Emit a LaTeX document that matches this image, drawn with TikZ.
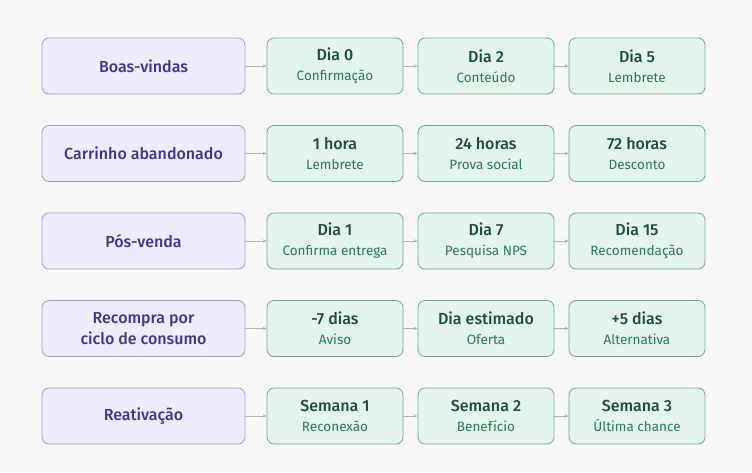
\documentclass[tikz,border=0pt]{standalone}
\usepackage{fontspec}
\setmainfont{Fira Sans}
\newfontfamily\medfont{Fira Sans Medium}
\usetikzlibrary{positioning,arrows.meta}

\definecolor{bgc}{HTML}{F7F7F5}
\definecolor{flowfill}{HTML}{EEEBFC}
\definecolor{flowdraw}{HTML}{A397E3}
\definecolor{flowtext}{HTML}{3E3590}
\definecolor{stepfill}{HTML}{E2F4EB}
\definecolor{stepdraw}{HTML}{6AAE90}
\definecolor{steptitle}{HTML}{1D4C3B}
\definecolor{stepsub}{HTML}{2B7A58}
\definecolor{linkc}{HTML}{B4B4B4}

\tikzset{
    flowbox/.style={draw=flowdraw, fill=flowfill, rounded corners=7pt, line width=0.8pt,
        minimum width=203pt, minimum height=56pt, align=center, text=flowtext,
        font=\medfont\fontsize{16}{21}\selectfont},
    stepbox/.style={draw=stepdraw, fill=stepfill, rounded corners=7pt, line width=0.8pt,
        minimum width=136pt, minimum height=56pt, align=center, inner sep=0pt,
        font=\fontsize{13.5}{20}\selectfont},
    link/.style={draw=linkc, line width=0.8pt, -{Stealth[length=4pt,width=3.5pt]}}
}

\newcommand{\steptext}[2]{{\medfont\fontsize{16}{20}\selectfont\color{steptitle}#1}\\{\color{stepsub}#2}}

\begin{document}
\begin{tikzpicture}[x=1pt, y=-1pt]
\fill[bgc] (0,0) rectangle (752,472);
\useasboundingbox (0,0) rectangle (752,472);

\foreach \r/\y/\flow/\ta/\sa/\tb/\sb/\tc/\sc in {
    1/66/{Boas-vindas}/{Dia 0}/{Confirmação}/{Dia 2}/{Conteúdo}/{Dia 5}/{Lembrete},
    2/153.5/{Carrinho abandonado}/{1 hora}/{Lembrete}/{24 horas}/{Prova social}/{72 horas}/{Desconto},
    3/241/{Pós-venda}/{Dia 1}/{Confirma entrega}/{Dia 7}/{Pesquisa NPS}/{Dia 15}/{Recomendação},
    4/328.5/{Recompra por\\ciclo de consumo}/{-7 dias}/{Aviso}/{Dia estimado}/{Oferta}/{+5 dias}/{Alternativa},
    5/416/{Reativação}/{Semana 1}/{Reconexão}/{Semana 2}/{Benefício}/{Semana 3}/{Última chance}} {
    \node[flowbox] (f\r) at (143.5,\y) {\flow};
    \node[stepbox] (s\r a) at (335,\y) {\steptext{\ta}{\sa}};
    \node[stepbox] (s\r b) at (486,\y) {\steptext{\tb}{\sb}};
    \node[stepbox] (s\r c) at (637,\y) {\steptext{\tc}{\sc}};
    \draw[link] (f\r) -- (s\r a);
    \draw[link] (s\r a) -- (s\r b);
    \draw[link] (s\r b) -- (s\r c);
}
\end{tikzpicture}
\end{document}
